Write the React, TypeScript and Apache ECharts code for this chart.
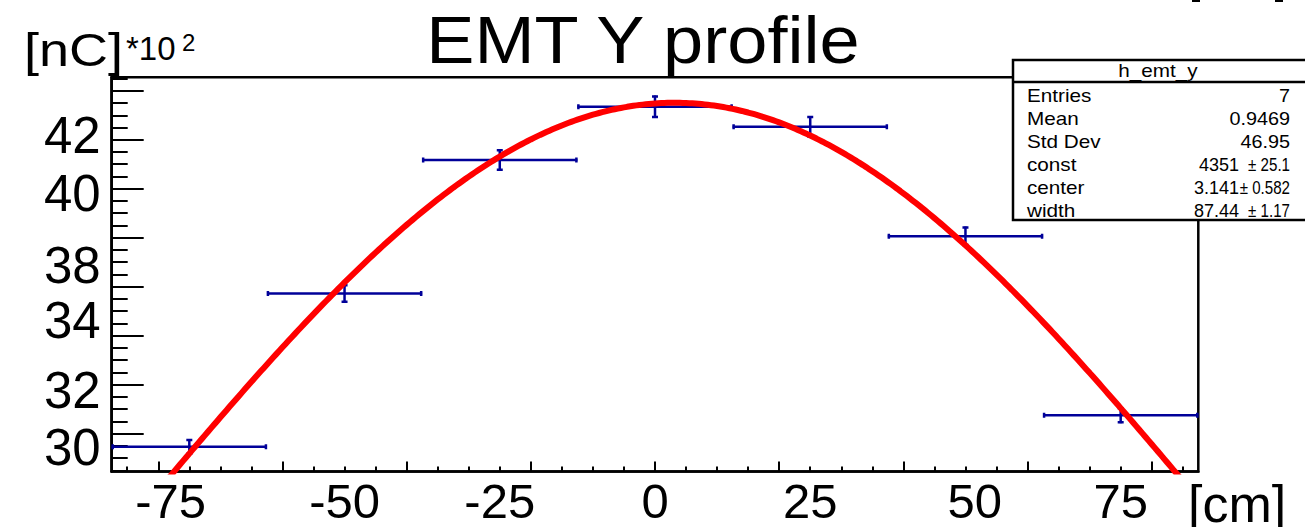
import React, { useEffect, useRef } from "react";
import * as echarts from "echarts";

// ---- data ----
const binCenters = [-75, -50, -25, 0, 25, 50, 75];
const binHalfWidth = 12.5;
const binValues = [2946, 3572, 4117, 4335, 4253, 3806, 3075];
const binErrors = [32, 38, 44, 46, 44, 40, 33];

// fit parameters (gaus) from the stats box
const fitConst = 4351;
const fitCenter = 3.141;
const fitWidth = 87.44;

const xMin = -87.5;
const xMax = 87.5;
const yMin = 2845;
const yMax = 4455;

// label positions (axis units) and texts, as they sit in the picture
const xLabelValues = [-78, -50, -25, 0, 25, 51.5, 75];
const xLabelTexts = ["-75", "-50", "-25", "0", "25", "50", "75"];
const xMajorTicks = [-80, -60, -40, -20, 0, 20, 40, 60, 80];
const xMinorTicks = [-85, -75, -70, -65, -55, -50, -45, -35, -30, -25, -15, -10, -5, 5, 10, 15, 25, 30, 35, 45, 50, 55, 65, 70, 75, 85];

const yLabelValues = [2942, 3177, 3461, 3688, 3981, 4218];
const yLabelTexts = ["30", "32", "34", "38", "40", "42"];
const yMajorTicks = [3000, 3200, 3400, 3600, 3800, 4000, 4200, 4400];
const yMinorTicks = [2850, 2900, 2950, 3050, 3100, 3150, 3250, 3300, 3350, 3450, 3500, 3550, 3650, 3700, 3750, 3850, 3900, 3950, 4050, 4100, 4150, 4250, 4300, 4350, 4450];

const statsTitle = "h_emt_y";
const statsNames = ["Entries", "Mean", "Std Dev", "const", "center", "width"];
const statsValues = ["7", "0.9469", "46.95", "4351", "3.141", "87.44"];
const statsErrors = ["", "", "", "± 25.1", "± 0.582", "± 1.17"];

const FONT = "'Liberation Sans', Arial, Helvetica, sans-serif";
const BLUE = "#000099";

function fitCurve(): number[][] {
  // the fitted gaussian function, evaluated across the axis range
  const pts: number[][] = [];
  for (let x = xMin; x <= xMax + 1e-9; x += 0.5) {
    const r = (x - fitCenter) / fitWidth;
    pts.push([x, fitConst * Math.exp(-0.5 * r * r)]);
  }
  return pts;
}

export default function App() {
  const ref = useRef<HTMLDivElement>(null);
  useEffect(() => {
    if (!ref.current) return;
    const chart = echarts.init(ref.current, null, { renderer: "svg" });
    const xLabelMap: Record<string, string> = {};
    xLabelValues.forEach((v, i) => (xLabelMap[String(v)] = xLabelTexts[i]));
    const yLabelMap: Record<string, string> = {};
    yLabelValues.forEach((v, i) => (yLabelMap[String(v)] = yLabelTexts[i]));

    const txt = (text: string, x: number, y: number, align: string, fs: number, sx: number) => ({
      type: "text",
      x,
      y,
      scaleX: sx,
      style: { text, fontSize: fs, fontFamily: FONT, fill: "#000", align, verticalAlign: "middle" },
    });

    const statsChildren: any[] = [
      {
        type: "rect",
        shape: { x: 1013, y: 60, width: 300, height: 160 },
        style: { fill: "#fff", stroke: "#000", lineWidth: 2.5 },
      },
      {
        type: "line",
        shape: { x1: 1013, y1: 82, x2: 1310, y2: 82 },
        style: { stroke: "#000", lineWidth: 2.5 },
      },
      txt(statsTitle, 1158, 71, "center", 18, 1.15),
    ];
    statsNames.forEach((n, i) => {
      const y = 96 + i * 23;
      statsChildren.push(txt(n, 1027, y, "left", 18, 1.15));
      if (statsErrors[i]) {
        statsChildren.push(txt(statsValues[i], 1239, y, "right", 18, 1.0));
        statsChildren.push(txt(statsErrors[i], 1290, y, "right", 18, 0.84));
      } else {
        statsChildren.push(txt(statsValues[i], 1290, y, "right", 18, 1.1));
      }
    });

    const option: any = {
      animation: false,
      backgroundColor: "#fff",
      grid: {
        left: 111.7,
        right: 106.7,
        top: 77.3,
        bottom: 55.4,
        show: true,
        borderColor: "#000",
        borderWidth: 2.5,
        backgroundColor: "transparent",
      },
      xAxis: [
        {
          type: "value",
          min: xMin,
          max: xMax,
          axisLine: { show: true, onZero: false, lineStyle: { color: "#000", width: 2.5 } },
          axisTick: { show: true, inside: true, length: 10, customValues: xMajorTicks, lineStyle: { color: "#000", width: 2 } },
          axisLabel: {
            show: true,
            customValues: xLabelValues,
            formatter: (v: number) => xLabelMap[String(v)] ?? "",
            fontSize: 49,
            fontFamily: FONT,
            color: "#000",
            margin: 5,
          },
          splitLine: { show: false },
        },
        {
          type: "value",
          position: "bottom",
          min: xMin,
          max: xMax,
          axisLine: { show: false, onZero: false },
          axisTick: { show: true, inside: true, length: 5, customValues: xMinorTicks, lineStyle: { color: "#000", width: 2 } },
          axisLabel: { show: false },
          splitLine: { show: false },
        },
      ],
      yAxis: [
        {
          type: "value",
          min: yMin,
          max: yMax,
          axisLine: { show: true, onZero: false, lineStyle: { color: "#000", width: 2.5 } },
          axisTick: { show: true, inside: true, length: 32, customValues: yMajorTicks, lineStyle: { color: "#000", width: 2 } },
          axisLabel: {
            show: true,
            customValues: yLabelValues,
            formatter: (v: number) => yLabelMap[String(v)] ?? "",
            fontSize: 51,
            fontFamily: FONT,
            color: "#000",
            margin: 11,
          },
          splitLine: { show: false },
        },
        {
          type: "value",
          position: "left",
          min: yMin,
          max: yMax,
          axisLine: { show: false, onZero: false },
          axisTick: { show: true, inside: true, length: 16, customValues: yMinorTicks, lineStyle: { color: "#000", width: 2 } },
          axisLabel: { show: false },
          splitLine: { show: false },
        },
      ],
      series: [
        {
          type: "custom",
          xAxisIndex: 0,
          yAxisIndex: 0,
          clip: true,
          z: 2,
          data: binCenters.map((c, i) => [c, binValues[i], binErrors[i]]),
          renderItem: (params: any, api: any) => {
            const c = api.value(0);
            const v = api.value(1);
            const e = api.value(2);
            const pL = api.coord([c - binHalfWidth, v]);
            const pR = api.coord([c + binHalfWidth, v]);
            const pT = api.coord([c, v + e]);
            const pB = api.coord([c, v - e]);
            const st = { stroke: BLUE, lineWidth: 2.5 };
            return {
              type: "group",
              children: [
                { type: "line", shape: { x1: pL[0], y1: pL[1], x2: pR[0], y2: pR[1] }, style: st },
                { type: "line", shape: { x1: pT[0], y1: pT[1], x2: pB[0], y2: pB[1] }, style: st },
                { type: "line", shape: { x1: pL[0] + 1, y1: pL[1] - 2.5, x2: pL[0] + 1, y2: pL[1] + 2.5 }, style: st },
                { type: "line", shape: { x1: pR[0] - 1, y1: pR[1] - 2.5, x2: pR[0] - 1, y2: pR[1] + 2.5 }, style: st },
                { type: "line", shape: { x1: pT[0] - 3, y1: pT[1] + 1, x2: pT[0] + 3, y2: pT[1] + 1 }, style: st },
                { type: "line", shape: { x1: pB[0] - 3, y1: pB[1] - 1, x2: pB[0] + 3, y2: pB[1] - 1 }, style: st },
              ],
            };
          },
        },
        {
          type: "line",
          xAxisIndex: 0,
          yAxisIndex: 0,
          data: fitCurve(),
          showSymbol: false,
          symbol: "none",
          smooth: false,
          clip: true,
          z: 3,
          lineStyle: { color: "#ff0000", width: 6 },
        },
      ],
      graphic: [
        {
          type: "text",
          x: 643,
          y: 40,
          z: 10,
          scaleX: 1.094,
          style: { text: "EMT Y profile", fontSize: 66, fontFamily: FONT, fill: "#000", align: "center", verticalAlign: "middle" },
        },
        {
          type: "text",
          x: 24,
          y: 50,
          z: 10,
          scaleX: 1.15,
          style: { text: "[nC]", fontSize: 47, fontFamily: FONT, fill: "#000", align: "left", verticalAlign: "middle" },
        },
        {
          type: "text",
          x: 126,
          y: 48,
          z: 10,
          style: { text: "*10", fontSize: 33, fontFamily: FONT, fill: "#000", align: "left", verticalAlign: "middle" },
        },
        {
          type: "text",
          x: 182,
          y: 42,
          z: 10,
          style: { text: "2", fontSize: 24, fontFamily: FONT, fill: "#000", align: "left", verticalAlign: "middle" },
        },
        {
          type: "text",
          x: 1188,
          y: 504,
          z: 10,
          style: { text: "[cm]", fontSize: 52, fontFamily: FONT, fill: "#000", align: "left", verticalAlign: "middle" },
        },
        { type: "rect", z: 10, shape: { x: 1192, y: 0, width: 8, height: 2 }, style: { fill: "#000" } },
        { type: "rect", z: 10, shape: { x: 1275, y: 0, width: 8, height: 2 }, style: { fill: "#000" } },
        { type: "group", z: 20, children: statsChildren },
      ],
    };
    chart.setOption(option);
    return () => chart.dispose();
  }, []);
  return (
    <div
      ref={ref}
      style={{ position: "fixed", left: 0, top: 0, width: 1305, height: 527, background: "#fff" }}
    />
  );
}
